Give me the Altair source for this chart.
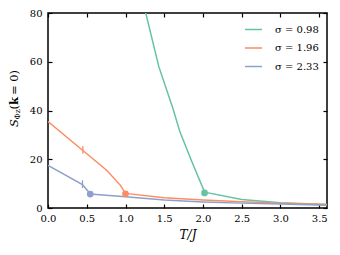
import altair as alt
import pandas as pd

series = ["σ = 0.98", "σ = 1.96", "σ = 2.33"]
colors = ["#66c2a5", "#fc8d62", "#8da0cb"]

t_green = [1.2, 1.43, 1.61, 1.7, 1.85, 2.02, 2.5, 3.0, 3.6]
s_green = [88, 58, 41, 31.5, 19.5, 6.5, 3.5, 2.2, 1.4]

t_orange = [0.0, 0.45, 0.76, 0.935, 1.0, 1.5, 2.0, 2.5, 3.0, 3.6]
s_orange = [35.5, 23.6, 15.4, 9.3, 6.0, 4.2, 3.3, 2.6, 2.0, 1.4]

t_blue = [0.0, 0.445, 0.52, 0.545, 1.0, 1.5, 2.0, 2.5, 3.0, 3.6]
s_blue = [17.5, 9.6, 6.8, 5.7, 4.6, 3.3, 2.5, 2.0, 1.6, 1.1]

dot_t = [2.02, 1.0, 0.545]
dot_s = [6.2, 5.8, 5.7]

mark_t = [0.45, 0.445]
mark_s = [23.8, 9.8]
mark_series = [series[1], series[2]]

x_ticks = [0.0, 0.5, 1.0, 1.5, 2.0, 2.5, 3.0, 3.5]
y_ticks = [0, 20, 40, 60, 80]

rows = []
for name, ts, ss in zip(series, [t_green, t_orange, t_blue], [s_green, s_orange, s_blue]):
    for i, (t, s) in enumerate(zip(ts, ss)):
        rows.append({"series": name, "T": t, "S": s, "order": i})
lines_df = pd.DataFrame(rows)
dots_df = pd.DataFrame({"series": series, "T": dot_t, "S": dot_s})
marks_df = pd.DataFrame({"series": mark_series, "T": mark_t, "S": mark_s})

FONT = "DejaVu Serif"
xscale = alt.Scale(domain=[0, 3.6], nice=False, zero=False)
yscale = alt.Scale(domain=[0, 80], nice=False)
cscale = alt.Scale(domain=series, range=colors)

tick_common = dict(tickSize=4, offset=-4, domain=False, tickColor="black",
                   tickWidth=1.2, labelFlush=False)

lines = alt.Chart(lines_df).mark_line(strokeWidth=1.5, clip=True).encode(
    x=alt.X("T:Q", scale=xscale, axis=alt.Axis(
        values=x_ticks, format=".1f", title="T/J", labelPadding=5,
        labelFont=FONT, labelFontSize=10, labelColor="black",
        titleFont=FONT, titleFontSize=12, titleFontStyle="italic",
        titleFontWeight="normal", titleColor="black", titlePadding=6,
        grid=False, **tick_common)),
    y=alt.Y("S:Q", scale=yscale, axis=alt.Axis(
        values=y_ticks, format="d", title=None, labelPadding=6,
        labelFont=FONT, labelFontSize=10, labelColor="black",
        grid=False, **tick_common)),
    color=alt.Color("series:N", scale=cscale, legend=alt.Legend(
        title=None, orient="none", legendX=196, legendY=7,
        symbolType="stroke", symbolSize=289, symbolStrokeWidth=1.5,
        labelFont=FONT, labelFontSize=10, labelColor="black",
        labelOffset=12, rowPadding=3.5)),
    order="order:Q",
)

dots = alt.Chart(dots_df).mark_circle(size=45, opacity=1).encode(
    x=alt.X("T:Q", scale=xscale, axis=alt.Axis(
        orient="top", values=x_ticks, labels=False, title=None, grid=False, **tick_common)),
    y=alt.Y("S:Q", scale=yscale, axis=alt.Axis(
        orient="right", values=y_ticks, labels=False, title=None, grid=False, **tick_common)),
    color=alt.Color("series:N", scale=cscale, legend=None),
)

bar_marks = alt.Chart(marks_df).mark_point(
    shape="M0,-1L0,1", size=60, strokeWidth=1.3, filled=False, opacity=1
).encode(
    x=alt.X("T:Q", scale=xscale, axis=None),
    y=alt.Y("S:Q", scale=yscale, axis=None),
    color=alt.Color("series:N", scale=cscale, legend=None),
)

def ytext(txt, x, y, size, style="normal", weight="normal"):
    return alt.Chart(pd.DataFrame({"t": [txt]})).mark_text(
        angle=270, align="left", baseline="middle", font=FONT, fontSize=size,
        fontStyle=style, fontWeight=weight, color="black"
    ).encode(x=alt.value(x), y=alt.value(y), text="t:N")

ytitle = ytext("S", -33, 114, 11.5, style="italic") + \
    ytext("Φz", -30, 106.5, 7.5) + \
    ytext("(", -33, 96.5, 11.5) + \
    ytext("k", -33, 92, 11.5, weight="bold") + \
    ytext("= 0)", -33, 82, 11.5)

chart = alt.layer(lines, dots, bar_marks, ytitle).resolve_axis(
    x="independent", y="independent"
).properties(
    width=279, height=195,
    autosize=alt.AutoSizeParams(type="none"),
    padding={"left": 40, "top": 5, "right": 5, "bottom": 40},
).configure_view(stroke="black", strokeWidth=1.5)

chart.save("out.html", embed_options={"renderer": "svg", "actions": False})
